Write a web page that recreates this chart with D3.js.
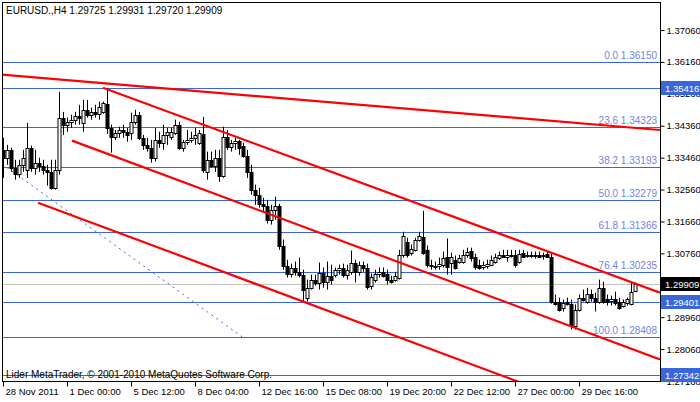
<!DOCTYPE html>
<html lang="en">
<head>
<meta charset="UTF-8">
<title>EURUSD H4</title>
<script src="https://d3js.org/d3.v7.min.js"></script>
<style>
    body { margin: 0; background: #fff; }
    svg { display: block; font-family: 'Liberation Sans', Arial, sans-serif; }
    .axis text { font-size: 9.5px; fill: #000; }
</style>
</head>
<body>
<svg width="700" height="402"></svg>
<script>
// 4-hour bars, 28 Nov 2011 .. 30 Dec 2011
const opens = [1.3368,1.3346,1.3368,1.3318,1.3301,1.3326,1.3311,1.3374,1.3318,1.3332,1.3323,1.3311,1.3306,1.3261,1.3311,1.3459,1.3439,1.3447,1.3453,1.3464,
  1.3444,1.3481,1.3467,1.3475,1.3470,1.3475,1.3498,1.3430,1.3405,1.3416,1.3424,1.3419,1.3416,1.3447,1.3467,1.3402,1.3382,1.3374,1.3346,1.3396,
  1.3388,1.3410,1.3405,1.3416,1.3439,1.3374,1.3391,1.3396,1.3402,1.3388,1.3413,1.3306,1.3340,1.3323,1.3346,1.3295,1.3405,1.3377,1.3388,1.3394,
  1.3380,1.3351,1.3306,1.3256,1.3241,1.3216,1.3210,1.3171,1.3199,1.3210,1.3098,1.3041,1.3019,1.3036,1.3024,1.3016,1.2951,1.2979,1.3002,1.2994,
  1.3022,1.2996,1.3013,1.3016,1.3030,1.3036,1.3016,1.3024,1.3050,1.3024,1.3044,1.3036,1.2982,1.3002,1.3019,1.3024,1.3019,1.3002,1.3002,1.3008,
  1.3072,1.3109,1.3078,1.3086,1.3115,1.3123,1.3086,1.3044,1.3041,1.3041,1.3044,1.3067,1.3050,1.3058,1.3053,1.3053,1.3072,1.3084,1.3067,1.3044,
  1.3039,1.3041,1.3044,1.3053,1.3064,1.3072,1.3067,1.3072,1.3072,1.3053,1.3078,1.3070,1.3072,1.3070,1.3072,1.3070,1.3075,1.3067,1.2940,1.2940,
  1.2923,1.2940,1.2934,1.2872,1.2917,1.2951,1.2940,1.2962,1.2951,1.2940,1.2979,1.2946,1.2940,1.2946,1.2940,1.2929,1.2934,1.2934,1.29725];
const highs = [1.3402,1.3382,1.3374,1.3340,1.3340,1.3368,1.3444,1.3380,1.3368,1.3346,1.3340,1.3326,1.3340,1.3340,1.3532,1.3475,1.3459,1.3467,1.3475,1.3495,
  1.3509,1.3509,1.3487,1.3495,1.3504,1.3504,1.3543,1.3439,1.3424,1.3433,1.3439,1.3430,1.3473,1.3481,1.3475,1.3410,1.3402,1.3396,1.3430,1.3419,
  1.3439,1.3430,1.3430,1.3453,1.3447,1.3396,1.3424,1.3419,1.3430,1.3424,1.3461,1.3363,1.3363,1.3368,1.3368,1.3433,1.3424,1.3396,1.3402,1.3396,
  1.3388,1.3368,1.3326,1.3270,1.3261,1.3233,1.3227,1.3213,1.3236,1.3216,1.3115,1.3058,1.3047,1.3053,1.3064,1.3030,1.3002,1.3016,1.3016,1.3050,
  1.3036,1.3053,1.3044,1.3036,1.3044,1.3047,1.3044,1.3084,1.3058,1.3053,1.3053,1.3047,1.3019,1.3030,1.3036,1.3036,1.3030,1.3013,1.3024,1.3086,
  1.3137,1.3120,1.3101,1.3120,1.3137,1.3196,1.3098,1.3058,1.3053,1.3064,1.3081,1.3118,1.3078,1.3070,1.3072,1.3086,1.3092,1.3092,1.3075,1.3058,
  1.3053,1.3058,1.3070,1.3075,1.3081,1.3086,1.3086,1.3086,1.3086,1.3086,1.3086,1.3081,1.3081,1.3081,1.3081,1.3078,1.3081,1.3078,1.2960,1.2951,
  1.2946,1.2951,1.2946,1.2932,1.2960,1.2974,1.2979,1.2974,1.2965,1.3002,1.2996,1.2960,1.2957,1.2968,1.2951,1.2946,1.2951,1.2994,1.29931];
const lows = [1.3289,1.3326,1.3306,1.3284,1.3289,1.3306,1.3289,1.3306,1.3298,1.3306,1.3298,1.3267,1.3256,1.3256,1.3298,1.3410,1.3419,1.3430,1.3439,1.3439,
  1.3419,1.3459,1.3453,1.3459,1.3453,1.3470,1.3413,1.3360,1.3396,1.3402,1.3402,1.3391,1.3396,1.3439,1.3396,1.3368,1.3363,1.3332,1.3335,1.3374,
  1.3368,1.3382,1.3396,1.3410,1.3368,1.3363,1.3382,1.3388,1.3382,1.3382,1.3303,1.3284,1.3318,1.3306,1.3278,1.3289,1.3368,1.3363,1.3368,1.3354,
  1.3346,1.3289,1.3241,1.3213,1.3205,1.3193,1.3160,1.3157,1.3171,1.3086,1.3030,1.3008,1.3008,1.3013,1.3008,1.2940,1.2940,1.2974,1.2985,1.2974,
  1.2979,1.2974,1.2988,1.3008,1.3016,1.3008,1.3002,1.3016,1.2994,1.3013,1.3024,1.2974,1.2974,1.2994,1.3008,1.3008,1.2988,1.2991,1.2996,1.3002,
  1.3064,1.3064,1.3070,1.3081,1.3109,1.3072,1.3036,1.3030,1.3030,1.3030,1.3036,1.3016,1.3016,1.3030,1.3047,1.3047,1.3064,1.3053,1.3030,1.3030,
  1.3030,1.3033,1.3041,1.3047,1.3058,1.3064,1.3053,1.3064,1.3036,1.3047,1.3064,1.3064,1.3064,1.3061,1.3064,1.3058,1.3064,1.2934,1.2929,1.2912,
  1.2912,1.2929,1.2861,1.2861,1.2912,1.2940,1.2934,1.2940,1.2912,1.2934,1.2934,1.2929,1.2929,1.2929,1.2917,1.2923,1.2929,1.2929,1.29720];
const closes = [1.3346,1.3368,1.3318,1.3301,1.3326,1.3346,1.3374,1.3318,1.3332,1.3323,1.3311,1.3306,1.3261,1.3311,1.3459,1.3439,1.3447,1.3453,1.3464,1.3459,
  1.3481,1.3467,1.3475,1.3470,1.3489,1.3501,1.3430,1.3405,1.3416,1.3424,1.3419,1.3410,1.3447,1.3467,1.3402,1.3382,1.3374,1.3346,1.3396,1.3388,
  1.3410,1.3419,1.3419,1.3439,1.3374,1.3391,1.3396,1.3402,1.3410,1.3416,1.3311,1.3340,1.3323,1.3346,1.3295,1.3405,1.3377,1.3388,1.3394,1.3374,
  1.3351,1.3306,1.3256,1.3241,1.3216,1.3210,1.3171,1.3199,1.3210,1.3098,1.3041,1.3019,1.3036,1.3024,1.3016,1.2974,1.2979,1.3002,1.2994,1.3022,
  1.2996,1.3013,1.3002,1.3030,1.3036,1.3016,1.3030,1.3050,1.3024,1.3044,1.3036,1.2982,1.3008,1.3019,1.3024,1.3013,1.3002,1.2996,1.3013,1.3072,
  1.3126,1.3072,1.3089,1.3115,1.3126,1.3078,1.3044,1.3041,1.3039,1.3047,1.3064,1.3039,1.3067,1.3036,1.3064,1.3072,1.3081,1.3064,1.3039,1.3036,
  1.3044,1.3047,1.3058,1.3067,1.3072,1.3067,1.3072,1.3070,1.3044,1.3075,1.3067,1.3072,1.3070,1.3072,1.3067,1.3072,1.3067,1.2940,1.2934,1.2917,
  1.2937,1.2934,1.2875,1.2917,1.2951,1.2946,1.2962,1.2951,1.2940,1.2979,1.2940,1.2937,1.2946,1.2934,1.2923,1.2940,1.2946,1.2968,1.29909];

const timeLabels = ["28 Nov 2011","1 Dec 00:00","5 Dec 12:00","8 Dec 04:00","12 Dec 16:00","15 Dec 08:00","19 Dec 20:00","22 Dec 12:00","27 Dec 00:00","29 Dec 16:00"];
const timeLabelBars = [0,16,32,48,64,80,96,112,128,144];

const priceTicks = [1.37060,1.36160,1.35260,1.34360,1.33460,1.32560,1.31660,1.30760,1.29860,1.28960,1.28060,1.27160];

const fibLevels = ["0.0","23.6","38.2","50.0","61.8","76.4","100.0"];
const fibPrices = [1.36150,1.34323,1.33193,1.32279,1.31366,1.30235,1.28408];
const hLinePrices = [1.35416,1.29401,1.27342];   // plain horizontal lines, marked on the axis
const bidPrice = 1.29909;

// trendlines: [bar1, price1, bar2, price2]
const redLines = [
  [-0.25, 1.3580, 164.25, 1.3424],
  [25, 1.3543, 164.25, 1.2965],
  [17.25, 1.3394, 164.25, 1.2777],
  [8.75, 1.3219, 129.25, 1.2712]
];
const fibBase = [1, 1.3318, 59.75, 1.28408];

const svg = d3.select("svg");
const plot = {left: 2, right: 660, top: 2, bottom: 381};
const fs = 10;
const axisFs = 9.5;

const x = d3.scaleLinear([-0.25, 164.25], [plot.left, plot.right]);
const y = d3.scaleLinear([1.37060, 1.27160], [30, plot.bottom]);

const fibColor = "#3a66dc";
const fibText = "#7083e6";

svg.append("defs").append("clipPath").attr("id", "clip")
  .append("rect").attr("x", plot.left).attr("y", plot.top)
  .attr("width", plot.right - plot.left).attr("height", plot.bottom - plot.top);

const g = svg.append("g").attr("clip-path", "url(#clip)");

// horizontal levels
g.selectAll(".fib").data(fibPrices.concat(hLinePrices)).join("line")
  .attr("x1", plot.left).attr("x2", plot.right)
  .attr("y1", d => Math.round(y(d)) + 0.5).attr("y2", d => Math.round(y(d)) + 0.5)
  .attr("stroke", fibColor).attr("stroke-width", 1);

g.append("line")
  .attr("x1", plot.left).attr("x2", plot.right)
  .attr("y1", Math.round(y(bidPrice)) + 0.5).attr("y2", Math.round(y(bidPrice)) + 0.5)
  .attr("stroke", "#c0c0c0");

g.selectAll(".fibLabel").data(fibPrices).join("text")
  .attr("x", plot.right - 3).attr("y", d => Math.round(y(d)) - 3)
  .attr("text-anchor", "end").attr("font-size", fs).attr("fill", fibText)
  .text((d, i) => `${fibLevels[i]} ${d.toFixed(5)}`);

g.append("line")
  .attr("x1", x(fibBase[0])).attr("y1", y(fibBase[1]))
  .attr("x2", x(fibBase[2])).attr("y2", y(fibBase[3]))
  .attr("stroke", fibColor).attr("stroke-dasharray", "2,4");

// candles
const bars = d3.range(closes.length);
g.selectAll(".wick").data(bars).join("line")
  .attr("x1", i => Math.round(x(i)) + 0.5).attr("x2", i => Math.round(x(i)) + 0.5)
  .attr("y1", i => y(highs[i])).attr("y2", i => y(lows[i]))
  .attr("stroke", "#000");

g.selectAll(".body").data(bars).join("rect")
  .attr("x", i => Math.round(x(i)) - 1)
  .attr("y", i => Math.round(y(Math.max(opens[i], closes[i]))) + 0.5)
  .attr("width", 3)
  .attr("height", i => Math.max(1, Math.round(Math.abs(y(opens[i]) - y(closes[i])))))
  .attr("fill", i => closes[i] >= opens[i] ? "#fff" : "#000")
  .attr("stroke", "#000").attr("stroke-width", 1);

// red trendlines
g.selectAll(".trend").data(redLines).join("line")
  .attr("x1", d => x(d[0])).attr("y1", d => y(d[1]))
  .attr("x2", d => x(d[2])).attr("y2", d => y(d[3]))
  .attr("stroke", "#ff0000").attr("stroke-width", 2.2);

// texts in plot
svg.append("text").attr("x", 6).attr("y", 14).attr("font-size", fs)
  .text("EURUSD.,H4  1.29725 1.29931 1.29720 1.29909");
svg.append("text").attr("x", 6).attr("y", 378).attr("font-size", fs)
  .text("Lider MetaTrader, © 2001-2010 MetaQuotes Software Corp.");

// frame
svg.append("rect").attr("x", plot.left + 0.5).attr("y", plot.top + 0.5)
  .attr("width", plot.right - plot.left).attr("height", plot.bottom - plot.top)
  .attr("fill", "none").attr("stroke", "#000");

// price axis
const yAxis = svg.append("g").attr("class", "axis")
  .attr("transform", `translate(${plot.right + 0.5},0)`)
  .call(d3.axisRight(y).tickValues(priceTicks).tickSize(4).tickPadding(2).tickFormat(d3.format(".5f")));
yAxis.select(".domain").remove();

// time axis
const xAxis = svg.append("g").attr("class", "axis")
  .attr("transform", `translate(0,${plot.bottom + 0.5})`)
  .call(d3.axisBottom(x).tickValues(timeLabelBars).tickSize(5).tickFormat((d, i) => timeLabels[i]));
xAxis.select(".domain").remove();
xAxis.selectAll("text").attr("text-anchor", "start").attr("dx", 2).attr("y", 7).attr("dy", "0.71em");

// price markers on the axis
const markers = hLinePrices.map(p => ({p, bg: fibColor})).concat([{p: bidPrice, bg: "#000"}]);
const mk = svg.selectAll(".marker").data(markers).join("g")
  .attr("transform", d => `translate(${plot.right + 1},${Math.round(y(d.p))})`);
mk.append("rect").attr("x", 0).attr("y", -7).attr("width", 39).attr("height", 14).attr("fill", d => d.bg);
mk.append("text").attr("x", 4).attr("y", 3.5).attr("font-size", axisFs).attr("fill", "#fff")
  .text(d => d.p.toFixed(5));
</script>
</body>
</html>
